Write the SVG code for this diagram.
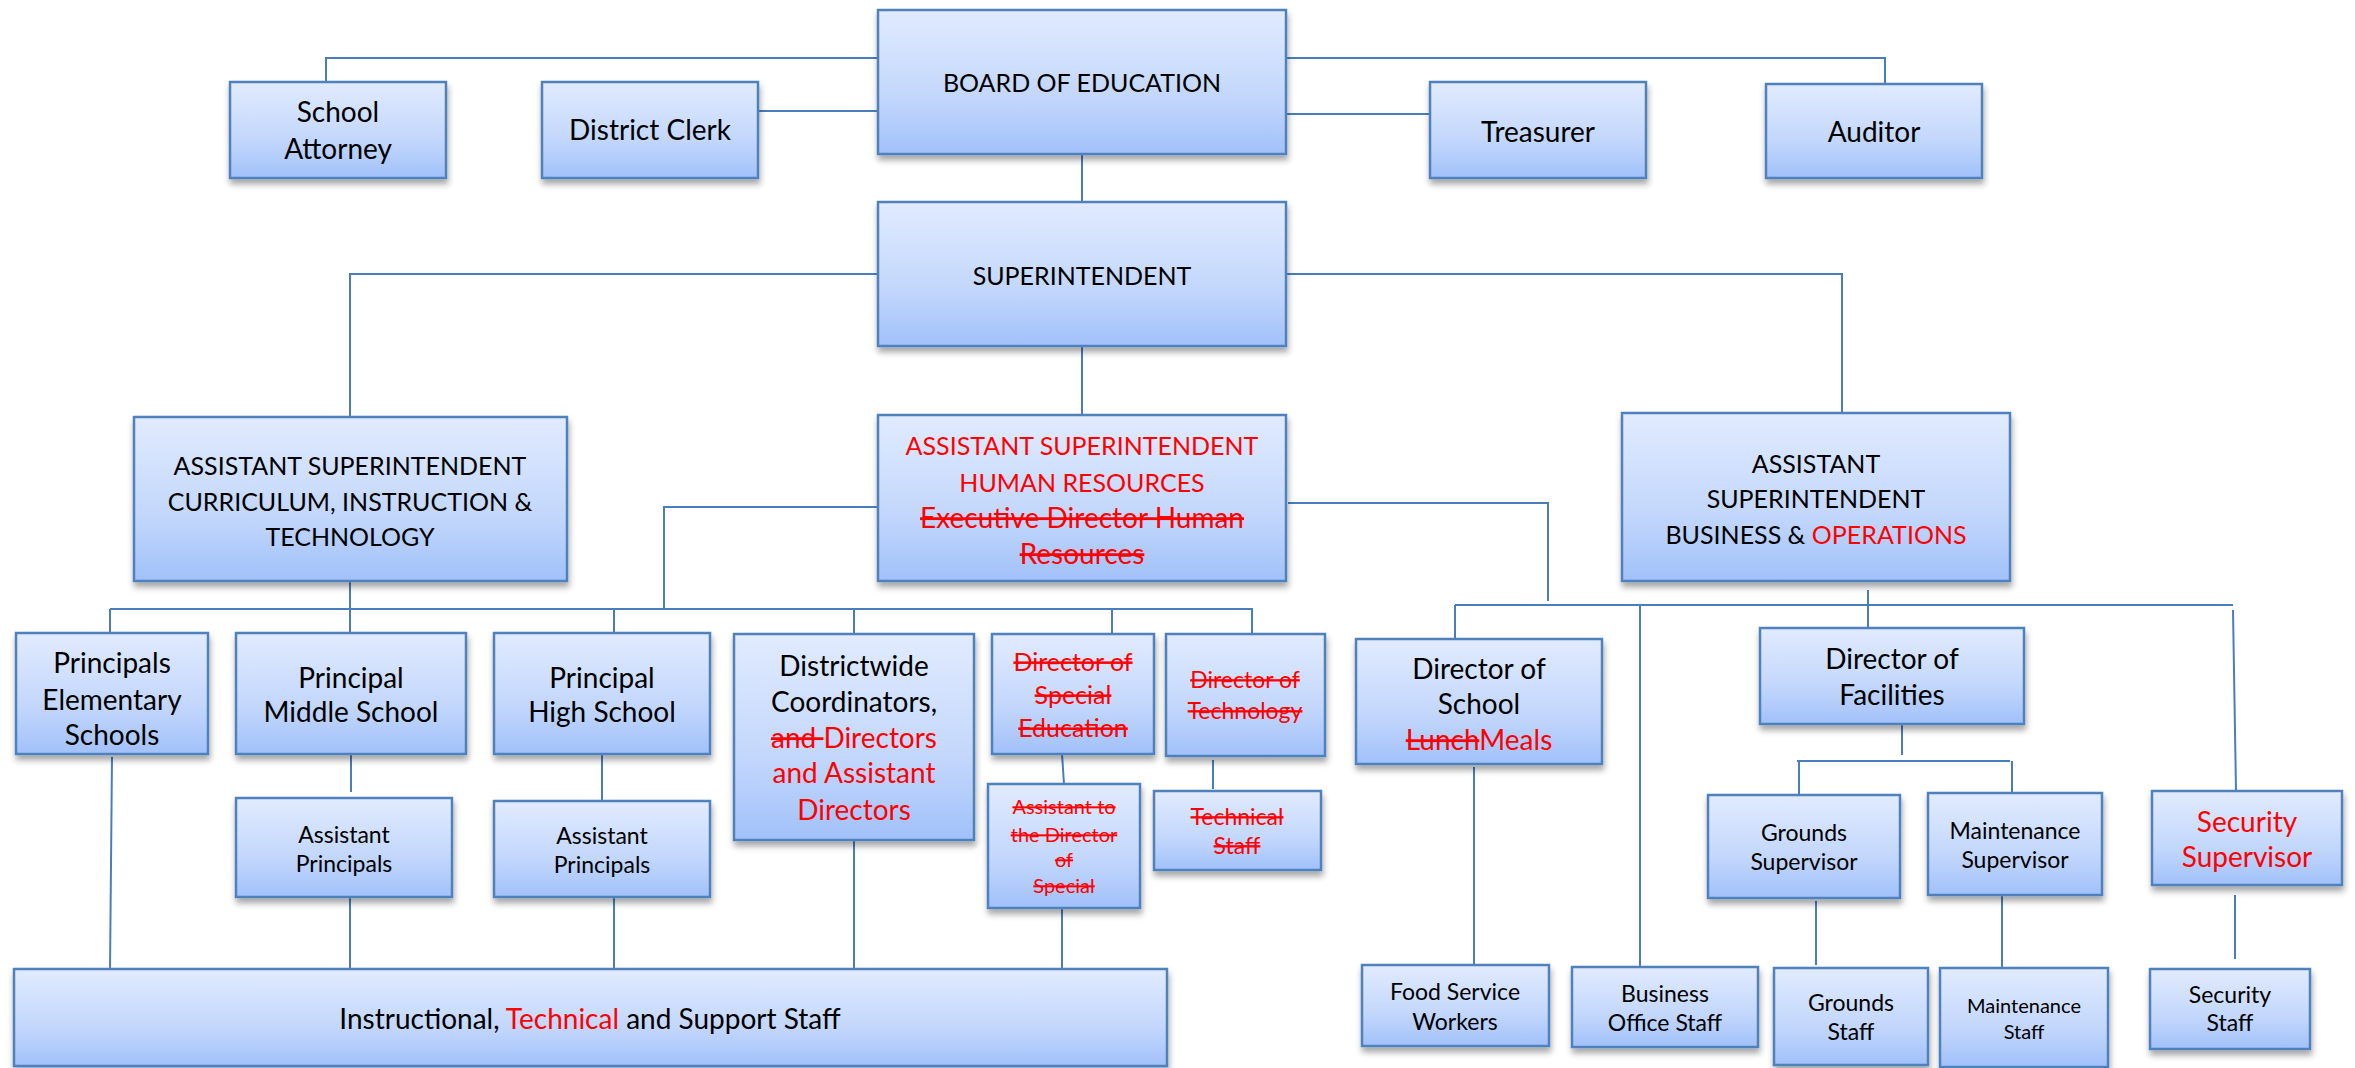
<svg xmlns="http://www.w3.org/2000/svg" width="2355" height="1068" viewBox="0 0 2355 1068">
<defs>
<linearGradient id="g" x1="0" y1="0" x2="0" y2="1">
<stop offset="0" stop-color="#e1ebfe"/>
<stop offset="0.6" stop-color="#c3d7fc"/>
<stop offset="1" stop-color="#a1c1fa"/>
</linearGradient>
<filter id="sh" x="-10%" y="-10%" width="130%" height="140%">
<feDropShadow dx="1" dy="5" stdDeviation="3" flood-color="#000" flood-opacity="0.35"/>
</filter>
<style>
.b{fill:url(#g);stroke:#4f81bd;stroke-width:2.5;filter:url(#sh)}
.c{fill:none;stroke:#4a7ebb;stroke-width:2}
text{font-family:Lato,"Liberation Sans",sans-serif;text-anchor:middle;fill:#000}
.cap{font-size:25px}
.f29{font-size:28px}
.f26{font-size:25px}
.f24{font-size:23px}
.f21{font-size:20px}
.r{fill:#ff0000}
.s{text-decoration:line-through}
</style>
</defs>
<rect width="2355" height="1068" fill="#fff"/>
<g id="connectors">
<path class="c" d="M878,58H326V82"/>
<path class="c" d="M758,111H878"/>
<path class="c" d="M1286,114H1430"/>
<path class="c" d="M1286,58H1885V84"/>
<path class="c" d="M1082,154V202"/>
<path class="c" d="M878,274H350V417"/>
<path class="c" d="M1286,274H1842V413"/>
<path class="c" d="M1082,346V415"/>
<path class="c" d="M350,581V633"/>
<path class="c" d="M110,609H1253"/>
<path class="c" d="M110,609V633"/>
<path class="c" d="M614,609V633"/>
<path class="c" d="M854,609V634"/>
<path class="c" d="M1112,609V634"/>
<path class="c" d="M1252,609V638"/>
<path class="c" d="M878,507H664V609"/>
<path class="c" d="M1288,503H1548V601"/>
<path class="c" d="M1455,605H2233"/>
<path class="c" d="M1455,605V639"/>
<path class="c" d="M1640,605V967"/>
<path class="c" d="M1868,590V628"/>
<path class="c" d="M2233,610L2236,791"/>
<path class="c" d="M1902,724V755"/>
<path class="c" d="M1797,761H2010"/>
<path class="c" d="M1799,761V795"/>
<path class="c" d="M2012,761V801"/>
<path class="c" d="M1816,901V965"/>
<path class="c" d="M2002,895V968"/>
<path class="c" d="M2235,895V959"/>
<path class="c" d="M351,754V792"/>
<path class="c" d="M602,754V801"/>
<path class="c" d="M350,897V969"/>
<path class="c" d="M614,897V969"/>
<path class="c" d="M112,757L110,971"/>
<path class="c" d="M854,840V969"/>
<path class="c" d="M1062,754L1064,784"/>
<path class="c" d="M1062,908V969"/>
<path class="c" d="M1213,760V789"/>
<path class="c" d="M1474,767V969"/>
</g>
<g id="board"><rect class="b" x="878" y="10" width="408" height="144"/><text class="cap" x="1082" y="92">BOARD OF EDUCATION</text></g>
<g id="attorney"><rect class="b" x="230" y="82" width="216" height="96"/><text class="f29" x="338" y="122">School</text><text class="f29" x="338" y="159">Attorney</text></g>
<g id="clerk"><rect class="b" x="542" y="82" width="216" height="96"/><text class="f29" x="650" y="140">District Clerk</text></g>
<g id="treasurer"><rect class="b" x="1430" y="82" width="216" height="96"/><text class="f29" x="1538" y="142">Treasurer</text></g>
<g id="auditor"><rect class="b" x="1766" y="84" width="216" height="94"/><text class="f29" x="1874" y="142">Auditor</text></g>
<g id="superintendent"><rect class="b" x="878" y="202" width="408" height="144"/><text class="cap" x="1082" y="285">SUPERINTENDENT</text></g>
<g id="asst-cit"><rect class="b" x="134" y="417" width="433" height="164"/><text class="cap" x="350" y="475">ASSISTANT SUPERINTENDENT</text><text class="cap" x="350" y="511">CURRICULUM, INSTRUCTION &amp;</text><text class="cap" x="350" y="546">TECHNOLOGY</text></g>
<g id="asst-hr"><rect class="b" x="878" y="415" width="408" height="166"/><text class="cap r" x="1082" y="455">ASSISTANT SUPERINTENDENT</text><text class="cap r" x="1082" y="492">HUMAN RESOURCES</text><text class="f29 r s" x="1082" y="528">Executive Director Human</text><text class="f29 r s" x="1082" y="564">Resources</text></g>
<g id="asst-bo"><rect class="b" x="1622" y="413" width="388" height="168"/><text class="cap" x="1816" y="473">ASSISTANT</text><text class="cap" x="1816" y="508">SUPERINTENDENT</text><text class="cap" x="1816" y="544">BUSINESS &amp; <tspan class="r">OPERATIONS</tspan></text></g>
<g id="elementary"><rect class="b" x="16" y="633" width="192" height="121"/><text class="f29" x="112" y="673">Principals</text><text class="f29" x="112" y="710">Elementary</text><text class="f29" x="112" y="745">Schools</text></g>
<g id="middle"><rect class="b" x="236" y="633" width="230" height="121"/><text class="f29" x="351" y="688">Principal</text><text class="f29" x="351" y="722">Middle School</text></g>
<g id="high"><rect class="b" x="494" y="633" width="216" height="121"/><text class="f29" x="602" y="688">Principal</text><text class="f29" x="602" y="722">High School</text></g>
<g id="districtwide"><rect class="b" x="734" y="634" width="240" height="206"/><text class="f29" x="854" y="676">Districtwide</text><text class="f29" x="854" y="712">Coordinators,</text><text class="f29" x="854" y="748"><tspan class="r s">and </tspan><tspan class="r">Directors</tspan></text><text class="f29 r" x="854" y="783">and Assistant</text><text class="f29 r" x="854" y="820">Directors</text></g>
<g id="dir-sped"><rect class="b" x="992" y="634" width="162" height="120"/><text class="f26 r s" x="1073" y="671">Director of</text><text class="f26 r s" x="1073" y="704">Special</text><text class="f26 r s" x="1073" y="737">Education</text></g>
<g id="dir-tech"><rect class="b" x="1166" y="634" width="159" height="122"/><text class="f24 r s" x="1245" y="688">Director of</text><text class="f24 r s" x="1245" y="719">Technology</text></g>
<g id="dir-meals"><rect class="b" x="1356" y="639" width="246" height="125"/><text class="f29" x="1479" y="679">Director of</text><text class="f29" x="1479" y="714">School</text><text class="f29" x="1479" y="750"><tspan class="r s">Lunch</tspan><tspan class="r">Meals</tspan></text></g>
<g id="dir-facilities"><rect class="b" x="1760" y="628" width="264" height="96"/><text class="f29" x="1892" y="669">Director of</text><text class="f29" x="1892" y="705">Facilities</text></g>
<g id="ap-middle"><rect class="b" x="236" y="798" width="216" height="99"/><text class="f24" x="344" y="843">Assistant</text><text class="f24" x="344" y="872">Principals</text></g>
<g id="ap-high"><rect class="b" x="494" y="801" width="216" height="96"/><text class="f24" x="602" y="844">Assistant</text><text class="f24" x="602" y="873">Principals</text></g>
<g id="asst-dir-sped"><rect class="b" x="988" y="784" width="152" height="124"/><text class="f21 r s" x="1064" y="814">Assistant to</text><text class="f21 r s" x="1064" y="842">the Director</text><text class="f21 r s" x="1064" y="867">of</text><text class="f21 r s" x="1064" y="893">Special</text></g>
<g id="tech-staff"><rect class="b" x="1154" y="791" width="167" height="79"/><text class="f24 r s" x="1237" y="825">Technical</text><text class="f24 r s" x="1237" y="854">Staff</text></g>
<g id="grounds-sup"><rect class="b" x="1708" y="795" width="192" height="103"/><text class="f24" x="1804" y="841">Grounds</text><text class="f24" x="1804" y="870">Supervisor</text></g>
<g id="maint-sup"><rect class="b" x="1928" y="793" width="174" height="102"/><text class="f24" x="2015" y="839">Maintenance</text><text class="f24" x="2015" y="868">Supervisor</text></g>
<g id="security-sup"><rect class="b" x="2152" y="791" width="190" height="94"/><text class="f29 r" x="2247" y="832">Security</text><text class="f29 r" x="2247" y="867">Supervisor</text></g>
<g id="instructional"><rect class="b" x="14" y="969" width="1153" height="97"/><text class="f29" x="590" y="1029">Instructional, <tspan class="r">Technical</tspan> and Support Staff</text></g>
<g id="food"><rect class="b" x="1362" y="965" width="187" height="81"/><text class="f24" x="1455" y="1000">Food Service</text><text class="f24" x="1455" y="1030">Workers</text></g>
<g id="bo-staff"><rect class="b" x="1572" y="967" width="186" height="80"/><text class="f24" x="1665" y="1002">Business</text><text class="f24" x="1665" y="1031">Office Staff</text></g>
<g id="grounds-staff"><rect class="b" x="1774" y="968" width="154" height="97"/><text class="f24" x="1851" y="1011">Grounds</text><text class="f24" x="1851" y="1040">Staff</text></g>
<g id="maint-staff"><rect class="b" x="1940" y="968" width="168" height="99"/><text class="f21" x="2024" y="1013">Maintenance</text><text class="f21" x="2024" y="1039">Staff</text></g>
<g id="security-staff"><rect class="b" x="2150" y="969" width="160" height="80"/><text class="f24" x="2230" y="1003">Security</text><text class="f24" x="2230" y="1031">Staff</text></g>
</svg>
